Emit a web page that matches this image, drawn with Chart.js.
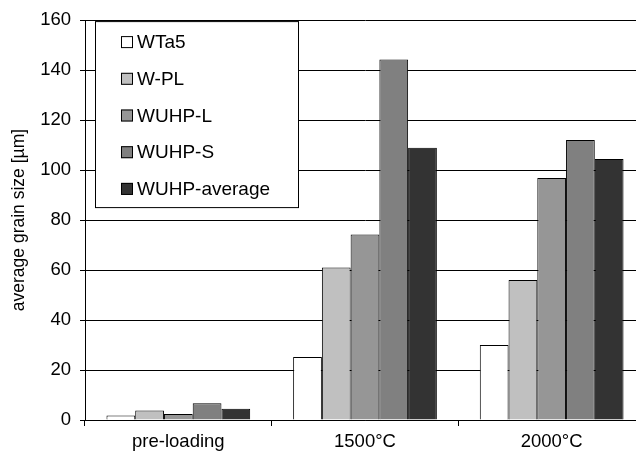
<!DOCTYPE html>
<html>
<head>
<meta charset="utf-8">
<script src="https://cdn.jsdelivr.net/npm/chart.js@4/dist/chart.umd.min.js"></script>
<style>
  html, body { margin: 0; padding: 0; background: #fff; overflow: hidden; }
  #wrap { position: absolute; left: 0; top: 0; width: 660px; height: 461px; }
</style>
</head>
<body>
<div id="wrap"><canvas id="chart"></canvas></div>
<script>
const categories = ["pre-loading", "1500°C", "2000°C"];
const series_names = ["WTa5", "W-PL", "WUHP-L", "WUHP-S", "WUHP-average"];
const series_colors = ["#ffffff", "#c0c0c0", "#969696", "#808080", "#333333"];
const wta5 = [1.8, 25.2, 30.0];
const w_pl = [3.8, 61, 56];
const wuhp_l = [2.4, 74.2, 96.8];
const wuhp_s = [6.7, 144.2, 112];
const wuhp_average = [4.5, 108.9, 104.4];
const series_values = [wta5, w_pl, wuhp_l, wuhp_s, wuhp_average];
const y_ticks = [0, 20, 40, 60, 80, 100, 120, 140, 160];

const font_family = "'Liberation Sans', Arial, sans-serif";

// legend drawn as a bordered box inside the plot area
const box_legend = {
  id: "box_legend",
  afterDraw(chart) {
    const { ctx, chartArea } = chart;
    const x = chartArea.left + 10;
    const y = chartArea.top + 1;
    const w = 203;
    const h = 186;
    ctx.save();
    ctx.fillStyle = "#fff";
    ctx.fillRect(x, y, w, h);
    ctx.strokeStyle = "#000";
    ctx.lineWidth = 1;
    ctx.strokeRect(x + 0.5, y + 0.5, w, h);
    ctx.font = "19px " + font_family;
    ctx.textBaseline = "middle";
    chart.data.datasets.forEach((ds, i) => {
      const cy = y + 21 + i * 36.7;
      ctx.fillStyle = ds.backgroundColor;
      ctx.fillRect(x + 26, cy - 6, 12, 12);
      ctx.strokeStyle = "#000";
      ctx.strokeRect(x + 26.5, cy - 5.5, 11, 11);
      ctx.fillStyle = "#000";
      ctx.fillText(ds.label, x + 42, cy + 1);
    });
    ctx.restore();
  },
};

const datasets = series_names.map((name, i) => ({
  label: name,
  data: series_values[i],
  backgroundColor: series_colors[i],
  borderColor: "#000",
  borderWidth: 1,
  categoryPercentage: 0.77,
  barPercentage: 1.0,
}));

new Chart(document.getElementById("chart"), {
  type: "bar",
  data: { labels: categories, datasets },
  plugins: [box_legend],
  options: {
    responsive: true,
    maintainAspectRatio: false,
    animation: false,
    layout: { padding: { left: 0, right: 15, top: 16, bottom: 0 } },
    plugins: {
      legend: { display: false },
      tooltip: { enabled: false },
    },
    scales: {
      x: {
        grid: { display: true, drawOnChartArea: false, tickLength: 6, color: "#000", offset: true },
        border: { color: "#000", width: 1 },
        ticks: { color: "#000", font: { family: font_family, size: 18.5 }, padding: 5 },
        afterFit(scale) { scale.height = 41; },
      },
      y: {
        min: 0,
        max: 160,
        afterBuildTicks(scale) { scale.ticks = y_ticks.map((v) => ({ value: v })); },
        grid: { color: "#000", lineWidth: 1, tickLength: 5 },
        border: { color: "#000", width: 1 },
        ticks: { color: "#000", font: { family: font_family, size: 18.5 }, padding: 9 },
        title: {
          display: true,
          text: "average grain size [µm]",
          color: "#000",
          font: { family: font_family, size: 17.5 },
          padding: { top: 9, bottom: 0 },
        },
        afterFit(scale) { scale.width = 85; },
      },
    },
  },
});
</script>
</body>
</html>
